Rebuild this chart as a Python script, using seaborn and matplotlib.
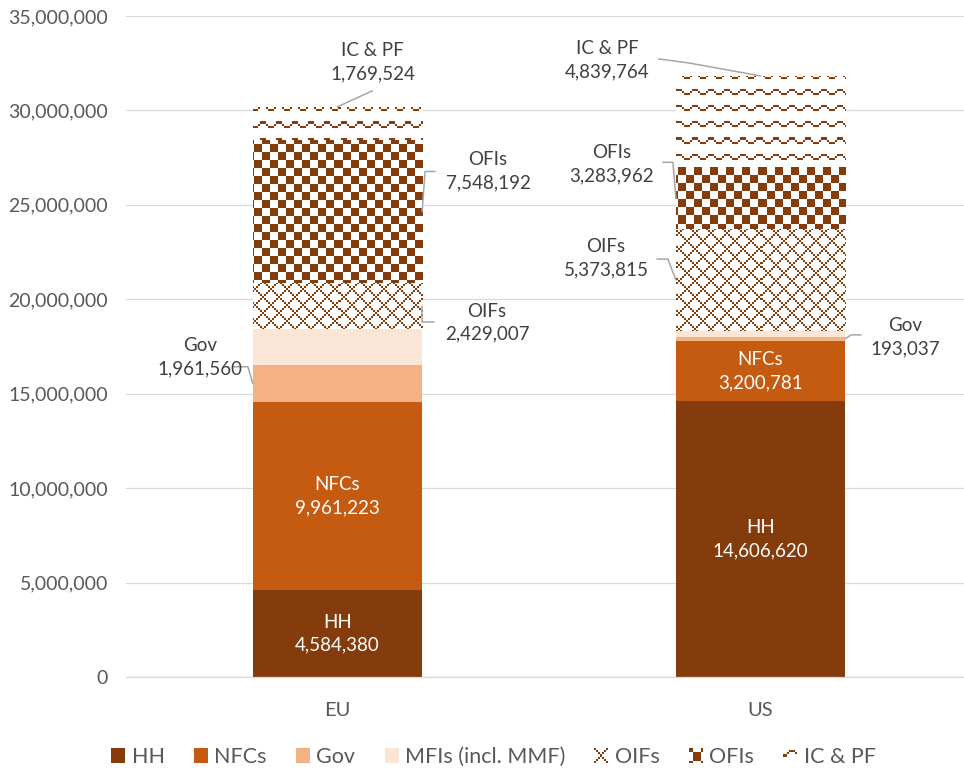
import numpy as np
import pandas as pd
import matplotlib
matplotlib.use("Agg")
import matplotlib.pyplot as plt
import matplotlib.transforms as mtransforms
import seaborn as sns
from matplotlib.patches import Patch
from matplotlib.lines import Line2D
from matplotlib.legend_handler import HandlerBase
from matplotlib.image import BboxImage
from matplotlib.ticker import FuncFormatter

regions = ["EU", "US"]
sectors = ["HH", "NFCs", "Gov", "MFIs (incl. MMF)", "OIFs", "OFIs", "IC & PF"]
hh = [4584380, 14606620]
nfcs = [9961223, 3200781]
gov = [1961560, 193037]
mfis = [1940000, 330000]  # no label in the source
oifs = [2429007, 5373815]
ofis = [7548192, 3283962]
icpf = [1769524, 4839764]

BROWN = "#843C0C"
colors = {"HH": BROWN, "NFCs": "#C55A11", "Gov": "#F4B183", "MFIs (incl. MMF)": "#FBE5D6"}
patterns = {"OIFs": "lattice", "OFIs": "checker", "IC & PF": "wave"}
TXT = "#404040"
AXC = "#595959"

sns.set_style("white")
plt.rcParams["font.family"] = ["Lato", "DejaVu Sans"]


def texture(kind, h, w):
    # excel-like 8x8 fill patterns, drawn with 2px blocks
    r, c = np.mgrid[0:h, 0:w]
    br, bc = r // 2, c // 2
    if kind == "checker":
        mask = ((r // 8) + (c // 8)) % 2 == 0
    elif kind == "lattice":
        mask = ((br + bc) % 8 == 0) | ((br - bc) % 8 == 0)
    else:
        wave = np.zeros((8, 8), dtype=bool)
        wave[5, 3:6] = True
        wave[6, [2, 6]] = True
        wave[7, [7, 0, 1]] = True
        mask = wave[br % 8, bc % 8]
    img = np.ones((h, w, 3))
    img[mask] = matplotlib.colors.to_rgb(BROWN)
    return img


class TexHandler(HandlerBase):
    def __init__(self, tex):
        super().__init__()
        self.tex = tex

    def create_artists(self, legend, orig_handle, xdescent, ydescent, width, height, fontsize, trans):
        box = mtransforms.TransformedBbox(
            mtransforms.Bbox.from_bounds(-xdescent, -ydescent, width, height), trans)
        im = BboxImage(box, interpolation="nearest")
        im.set_data(self.tex)
        return [im]


df = pd.DataFrame({
    "region": regions * len(sectors),
    "sector": np.repeat(sectors, len(regions)),
    "value": hh + nfcs + gov + mfis + oifs + ofis + icpf,
})

fig = plt.figure(figsize=(9.64, 7.71), dpi=100)
ax = fig.add_axes([126 / 964, 94 / 771, 846 / 964, 661 / 771])

bottom = np.zeros(len(regions))
bars = {}
for s in sectors:
    sub = df[df["sector"] == s]
    sns.barplot(data=sub, x="region", y="value", order=regions, color=colors.get(s, "white"),
                saturation=1, width=0.4, bottom=bottom, errorbar=None, linewidth=0,
                edgecolor="none", ax=ax)
    bars[s] = ax.containers[-1]
    bottom = bottom + sub["value"].to_numpy()

# pattern fills, one texture per bar clipped to the bar
H, W = int(round(ax.bbox.height)), int(round(ax.bbox.width))
for s, kind in patterns.items():
    tex = texture(kind, H, W)
    for p in bars[s]:
        im = ax.imshow(tex, extent=(0, 1, 0, 1), transform=ax.transAxes, interpolation="nearest",
                       aspect="auto", zorder=p.get_zorder() + 0.1)
        im.set_clip_path(p)

ax.set_xlim(-0.5, 1.5)
ax.set_ylim(0, 35e6)
ax.set_yticks(np.arange(0, 35e6 + 1, 5e6))
ax.yaxis.set_major_formatter(FuncFormatter(lambda v, _: f"{v:,.0f}"))
ax.set_xlabel("")
ax.set_ylabel("")
ax.yaxis.grid(True, color="#D9D9D9", lw=0.9)
ax.set_axisbelow(True)
for sp in ["left", "right", "top"]:
    ax.spines[sp].set_visible(False)
ax.spines["bottom"].set_color("#D9D9D9")
ax.spines["bottom"].set_linewidth(0.9)
ax.tick_params(axis="y", length=0, pad=13, labelsize=14, labelcolor=AXC)
ax.tick_params(axis="x", length=0, pad=18, labelsize=14.5, labelcolor=AXC)

# labels inside the solid segments
for s in ["HH", "NFCs"]:
    for p in bars[s]:
        ax.text(p.get_x() + p.get_width() / 2, p.get_y() + p.get_height() / 2,
                f"{s}\n{p.get_height():,.0f}", ha="center", va="center", color="white",
                fontsize=13.5, linespacing=1.45)


def anchor(p, where):
    if where == "left":
        return p.get_x(), p.get_y() + p.get_height() / 2
    if where == "right":
        return p.get_x() + p.get_width(), p.get_y() + p.get_height() / 2
    return p.get_x() + p.get_width() / 2, p.get_y() + p.get_height()


# (sector, bar index, anchor side, text offset px, leader points px)
outside = [
    ("Gov", 0, "left", (-53, 27), [(-20, 17), (-5, 17), (0, 0)]),
    ("OIFs", 0, "right", (65, -17), [(12, -16), (0, -16), (0, 0)]),
    ("OFIs", 0, "right", (66, 40), [(13, 40), (3, 40), (0, 0)]),
    ("IC & PF", 0, "top", (35, 45), [(35, 16), (0, 0)]),
    ("Gov", 1, "right", (60, 2), [(16, 4), (6, 4), (0, 0)]),
    ("OIFs", 1, "left", (-70, 22), [(-19, 21), (-8, 21), (0, 0)]),
    ("OFIs", 1, "left", (-64, 34), [(-13, 36), (-3, 36), (0, 0)]),
    ("IC & PF", 1, "top", (-153, 16), [(-102, 17), (-72, 13), (0, 0)]),
]
for s, i, side, (dx, dy), pts in outside:
    p = bars[s][i]
    xy = anchor(p, side)
    ax.annotate(f"{s}\n{p.get_height():,.0f}", xy=xy, xytext=(dx, dy), textcoords="offset pixels",
                ha="center", va="center", color=TXT, fontsize=13.5, linespacing=1.45)
    trans = mtransforms.IdentityTransform() + mtransforms.ScaledTranslation(xy[0], xy[1], ax.transData)
    xs, ys = zip(*pts)
    ax.add_artist(Line2D(xs, ys, transform=trans, color="#A6A6A6", lw=1.1, clip_on=False))

# legend
handles, hmap = [], {}
crops = {"lattice": (2, 2), "checker": (4, 4), "wave": (8, 0)}
for s in sectors:
    if s in colors:
        h = Patch(facecolor=colors[s], edgecolor="none", label=s)
    else:
        kind = patterns[s]
        r0, c0 = crops[kind]
        h = Patch(facecolor="white", edgecolor="none", label=s)
        hmap[h] = TexHandler(texture(kind, 32, 32)[r0:r0 + 14, c0:c0 + 14])
    handles.append(h)
fig.legend(handles=handles, handler_map=hmap, loc="center", bbox_to_anchor=(0.512, 0.018), ncol=7,
           frameon=False, fontsize=15.5, handlelength=0.65, handleheight=0.65, handletextpad=0.3,
           columnspacing=1.35, labelcolor=AXC)

fig.savefig("out.png", dpi=100)
